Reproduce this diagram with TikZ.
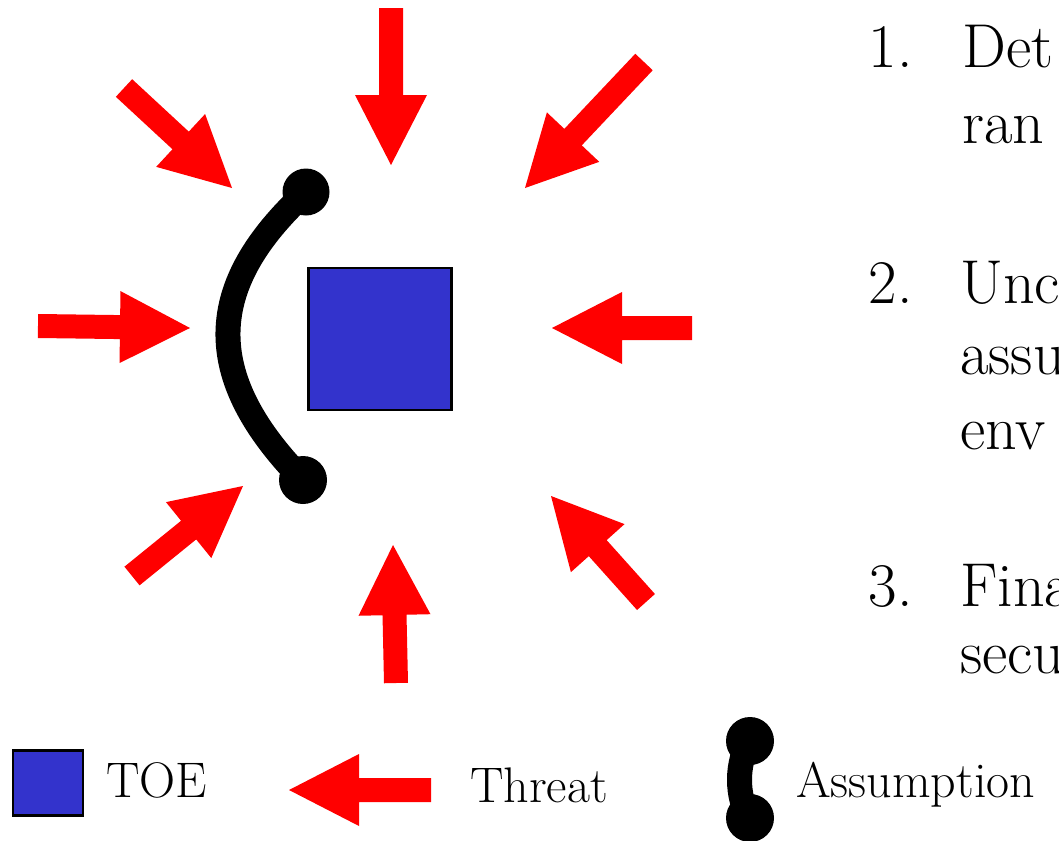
\documentclass[tikz,border=0pt]{standalone}
\usetikzlibrary{calc}
\definecolor{toeblue}{RGB}{51,51,204}
\definecolor{threatred}{RGB}{255,0,0}
\tikzset{
  toebox/.style={draw=black, line width=2.5bp, fill=toeblue, inner sep=0pt},
  threatshape/.style={fill=threatred},
  assumeline/.style={draw=black, line width=25bp},
  knob/.style={circle, fill=black, inner sep=0pt, minimum size=#1},
  listtext/.style={inner sep=0pt, font=\fontsize{62bp}{74bp}\selectfont},
  legendtext/.style={inner sep=0pt, anchor=base west, font=\fontsize{50bp}{60bp}\selectfont},
}
% #1 tail, #2 tip
\newcommand\threatarrow[2]{%
  \fill[threatshape] let \p1=(#1), \p2=(#2), \n1={atan2(\y2-\y1,\x2-\x1)} in
    (\p2)
    -- ($(\p2)+({\n1+180}:70bp)+({\n1+90}:36bp)$)
    -- ($(\p2)+({\n1+180}:70bp)+({\n1+90}:12bp)$)
    -- ($(\p1)+({\n1+90}:12bp)$)
    -- ($(\p1)+({\n1-90}:12bp)$)
    -- ($(\p2)+({\n1+180}:70bp)+({\n1-90}:12bp)$)
    -- ($(\p2)+({\n1+180}:70bp)+({\n1-90}:36bp)$)
    -- cycle;}
\begin{document}
\begin{tikzpicture}[x=1bp, y=-1bp]
\useasboundingbox (0,0) rectangle (1059,841);

% threat arrows around the TOE
\coordinate (tTop) at (391,8);    \coordinate (pTop) at (391,165);
\coordinate (tBot) at (396,683);  \coordinate (pBot) at (393,545);
\coordinate (tL) at (38,326);     \coordinate (pL) at (190,328);
\coordinate (tR) at (692,328);    \coordinate (pR) at (552,328);
\coordinate (tTL) at (124,88);    \coordinate (pTL) at (232,188);
\coordinate (tTR) at (644,62);    \coordinate (pTR) at (525,188);
\coordinate (tBL) at (132,576);   \coordinate (pBL) at (243,486);
\coordinate (tBR) at (646,602);   \coordinate (pBR) at (551,496);
\threatarrow{tTop}{pTop}
\threatarrow{tBot}{pBot}
\threatarrow{tL}{pL}
\threatarrow{tR}{pR}
\threatarrow{tTL}{pTL}
\threatarrow{tTR}{pTR}
\threatarrow{tBL}{pBL}
\threatarrow{tBR}{pBR}

% TOE
\node[toebox, minimum width=143bp, minimum height=142bp] (toe) at (380,339) {};

% assumption
\node[knob=47bp] (k1) at (306,192) {};
\node[knob=48bp] (k2) at (303,480) {};
\draw[assumeline] (k1.center) .. controls (205,285) and (200,375) .. (k2.center);

% numbered list (cut by the right edge)
\node[listtext, anchor=base east] (n1) at (913,67) {1.};
\node[listtext, anchor=base west] (l1a) at (962,67) {Det};
\node[listtext, anchor=base west] (l1b) at (962,143) {ran};
\node[listtext, anchor=base east] (n2) at (913,303) {2.};
\node[listtext, anchor=base west] (l2a) at (960,303) {Unc};
\node[listtext, anchor=base west] (l2b) at (960,374) {assu};
\node[listtext, anchor=base west] (l2c) at (960,449) {env};
\node[listtext, anchor=base east] (n3) at (913,606) {3.};
\node[listtext, anchor=base west] (l3a) at (960,606) {Fina};
\node[listtext, anchor=base west] (l3b) at (960,673) {secu};

% legend
\node[toebox, minimum width=70bp, minimum height=65bp] (ltoe) at (48,783) {};
\node[legendtext] (ltoetxt) at (106,797) {TOE};
\coordinate (tLeg) at (431,790); \coordinate (pLeg) at (289,790);
\threatarrow{tLeg}{pLeg}
\node[legendtext] (lthr) at (470,802) {Threat};
\node[knob=48bp] (lk1) at (750,741) {};
\node[knob=48bp] (lk2) at (750,818) {};
\draw[assumeline] (lk1.center) .. controls (736,762) and (736,798) .. (lk2.center);
\node[legendtext] (lass) at (796,797) {Assumption};
\end{tikzpicture}
\end{document}
